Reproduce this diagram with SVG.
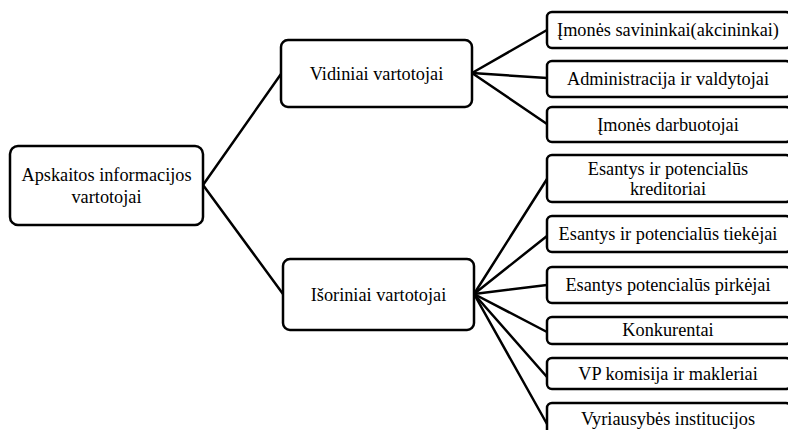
<svg xmlns="http://www.w3.org/2000/svg" width="788" height="430" viewBox="0 0 788 430">
  <style>
    .box { fill: #ffffff; stroke: #000000; stroke-width: 2.5; }
    .lbl { font-family: "Liberation Serif", "Times New Roman", serif; font-size: 18.3px; fill: #000000; text-anchor: middle; }
    .wire { stroke: #000000; stroke-width: 2.5; fill: none; stroke-linecap: round; }
  </style>
  <rect x="0" y="0" width="788" height="430" fill="#ffffff"/>

  <!-- connectors -->
  <g id="connectors">
    <line class="wire" x1="203" y1="185" x2="281" y2="74"/>
    <line class="wire" x1="203" y1="185" x2="283" y2="294"/>
    <line class="wire" x1="472" y1="73" x2="547" y2="30"/>
    <line class="wire" x1="472" y1="73" x2="547" y2="78"/>
    <line class="wire" x1="472" y1="73" x2="547" y2="124"/>
    <line class="wire" x1="474" y1="294" x2="547" y2="179"/>
    <line class="wire" x1="474" y1="294" x2="547" y2="236"/>
    <line class="wire" x1="474" y1="294" x2="547" y2="285"/>
    <line class="wire" x1="474" y1="294" x2="547" y2="332"/>
    <line class="wire" x1="474" y1="294" x2="547" y2="377"/>
    <line class="wire" x1="474" y1="294" x2="547" y2="424"/>
  </g>

  <g id="root">
    <rect class="box" x="10" y="146" width="193" height="79" rx="8"/>
    <text class="lbl" x="106.5" y="181">Apskaitos informacijos</text>
    <text class="lbl" x="106.5" y="203">vartotojai</text>
  </g>

  <g id="vidiniai">
    <rect class="box" x="281" y="40" width="191" height="67" rx="7"/>
    <text class="lbl" x="376.5" y="80">Vidiniai vartotojai</text>
  </g>

  <g id="isoriniai">
    <rect class="box" x="283" y="259" width="191" height="71" rx="7"/>
    <text class="lbl" x="378.5" y="301">Išoriniai vartotojai</text>
  </g>

  <g id="savininkai">
    <rect class="box" x="547" y="12" width="244" height="36" rx="5"/>
    <text class="lbl" x="668" y="36">Įmonės savininkai(akcininkai)</text>
  </g>
  <g id="administracija">
    <rect class="box" x="547" y="61" width="244" height="36" rx="5"/>
    <text class="lbl" x="668" y="85">Administracija ir valdytojai</text>
  </g>
  <g id="darbuotojai">
    <rect class="box" x="547" y="107" width="244" height="35" rx="5"/>
    <text class="lbl" x="668" y="131">Įmonės darbuotojai</text>
  </g>

  <g id="kreditoriai">
    <rect class="box" x="547" y="155" width="244" height="47" rx="5"/>
    <text class="lbl" x="668" y="175">Esantys ir potencialūs</text>
    <text class="lbl" x="668" y="195">kreditoriai</text>
  </g>
  <g id="tiekejai">
    <rect class="box" x="547" y="216" width="244" height="36" rx="5"/>
    <text class="lbl" x="668" y="240">Esantys ir potencialūs tiekėjai</text>
  </g>
  <g id="pirkejai">
    <rect class="box" x="547" y="267" width="244" height="36" rx="5"/>
    <text class="lbl" x="668" y="291">Esantys potencialūs pirkėjai</text>
  </g>
  <g id="konkurentai">
    <rect class="box" x="547" y="317" width="244" height="27" rx="5"/>
    <text class="lbl" x="668" y="336">Konkurentai</text>
  </g>
  <g id="vp-komisija">
    <rect class="box" x="547" y="358" width="244" height="31" rx="5"/>
    <text class="lbl" x="668" y="380">VP komisija ir makleriai</text>
  </g>
  <g id="vyriausybe">
    <rect class="box" x="547" y="403" width="244" height="40" rx="5"/>
    <text class="lbl" x="668" y="425">Vyriausybės institucijos</text>
  </g>
</svg>
